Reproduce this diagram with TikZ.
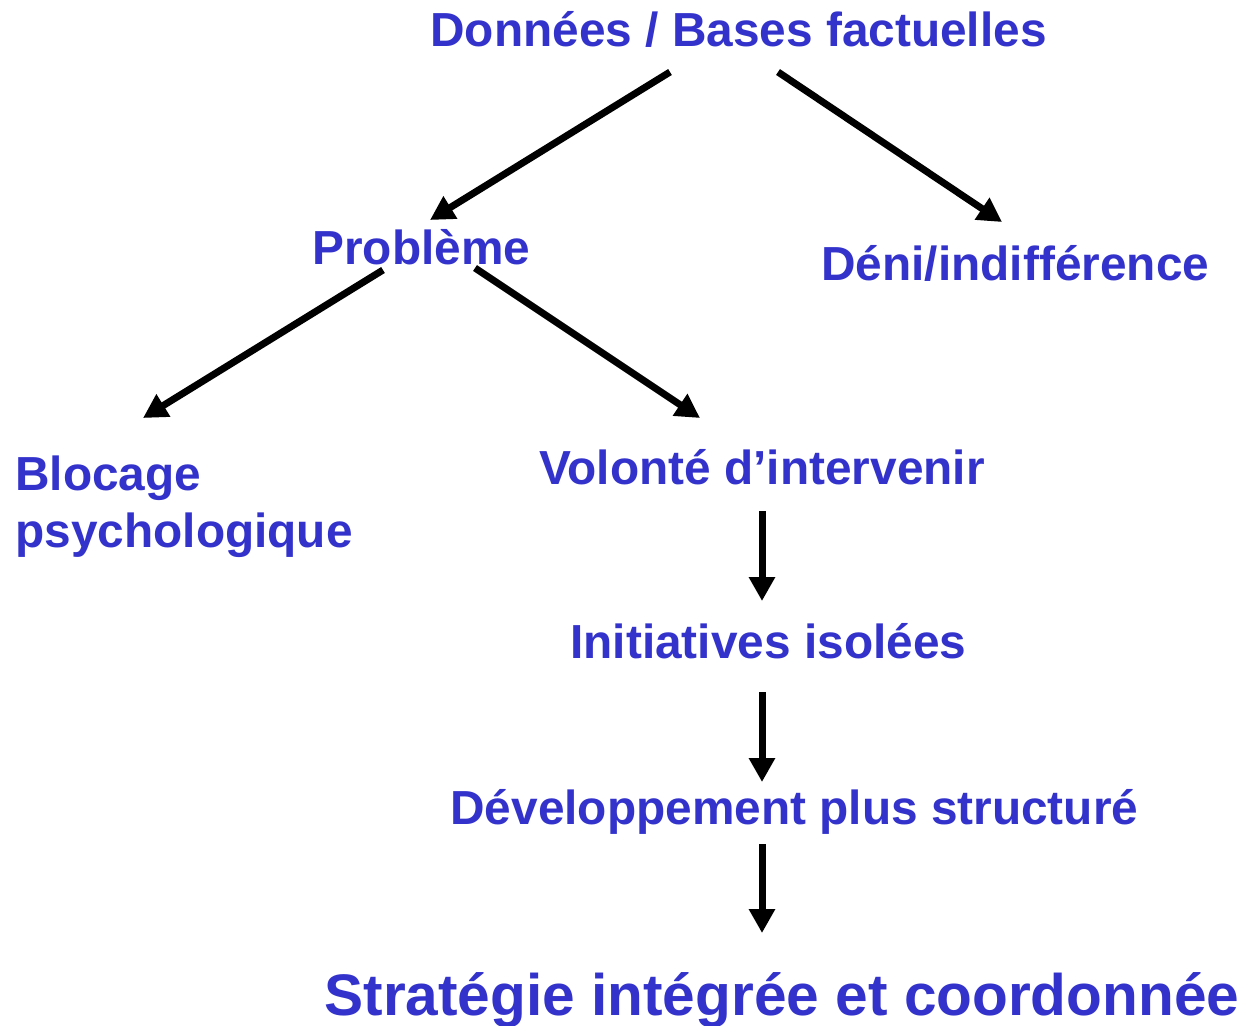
\documentclass[tikz,border=0pt]{standalone}
\usepackage{fontspec}
\setmainfont{Liberation Sans}
\usetikzlibrary{arrows.meta}
\definecolor{txtblue}{RGB}{51,51,204}
\tikzset{
  lbl/.style={font=\fontsize{23.9pt}{28pt}\selectfont\bfseries, text=txtblue, inner sep=0pt, anchor=base west},
  biglbl/.style={lbl, font=\fontsize{29.3pt}{34pt}\selectfont\bfseries},
  arr/.style={line width=3.5pt, -{Triangle[length=12pt,width=12.5pt]}, black}
}
\begin{document}
\begin{tikzpicture}[x=0.5pt,y=-0.5pt]
\useasboundingbox (0,0) rectangle (1244,1025);
\node[lbl] (don) at (430,46) {Données / Bases factuelles};
\node[lbl] (prob) at (312,264) {Problème};
\node[lbl] (deni) at (821,280) {Déni/indifférence};
\node[lbl] (bloc1) at (15,490) {Blocage};
\node[lbl] (bloc2) at (15,547) {psychologique};
\node[lbl] (vol) at (539,484) {Volonté d’intervenir};
\node[lbl] (init) at (570,658) {Initiatives isolées};
\node[lbl] (dev) at (450,824) {Développement plus structuré};
\node[biglbl] (strat) at (324,1015) {Stratégie intégrée et coordonnée};
% connector ends
\coordinate (donL) at (670,72);
\coordinate (donR) at (778,72);
\coordinate (probT) at (430,220);
\coordinate (deniT) at (1002,222);
\coordinate (probL) at (383,270);
\coordinate (probR) at (475,268);
\coordinate (blocT) at (143,418);
\coordinate (volT) at (700,418);
\coordinate (volB) at (762,511);
\coordinate (initT) at (762,601);
\coordinate (initB) at (762,692);
\coordinate (devT) at (762,782);
\coordinate (devB) at (762,844);
\coordinate (stratT) at (762,933);
\draw[arr] (donL) -- (probT);
\draw[arr] (donR) -- (deniT);
\draw[arr] (probL) -- (blocT);
\draw[arr] (probR) -- (volT);
\draw[arr] (volB) -- (initT);
\draw[arr] (initB) -- (devT);
\draw[arr] (devB) -- (stratT);
\end{tikzpicture}
\end{document}
